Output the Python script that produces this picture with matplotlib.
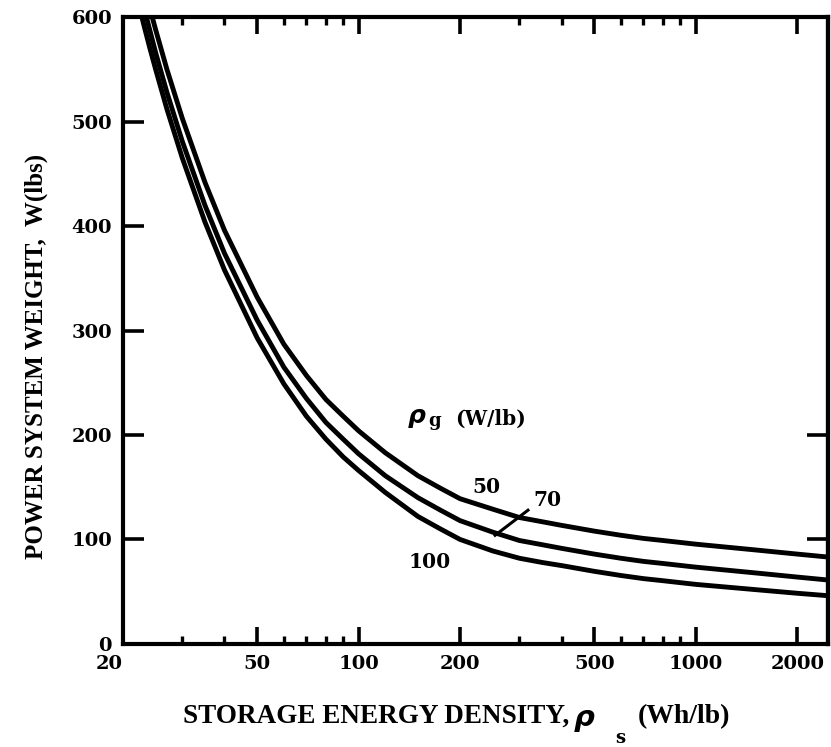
import matplotlib

matplotlib.use("Agg")
import matplotlib.pyplot as plt
from matplotlib.ticker import FixedLocator, NullFormatter

# storage energy density, Wh/lb
rho_s = [21, 22, 23, 24, 25, 27, 30, 35, 40, 50, 60, 70, 80, 90, 100, 120,
         150, 175, 200, 250, 300, 350, 400, 500, 600, 700, 800, 1000, 1500,
         2000, 2500]

# power system weight, lbs, for each generator density rho_g (W/lb)
w_50 = [686, 658, 632, 609, 588, 550, 503, 442, 396, 332, 287, 257, 234, 218,
        204, 183, 161, 149, 139, 129, 121, 117, 113.5, 108, 104, 101, 99,
        95.5, 90, 86, 83]
w_70 = [664, 636, 611, 588, 566, 528, 481, 420, 374, 310, 265, 235, 212, 196,
        182, 161, 140, 128, 118, 107, 99, 95, 91.5, 86, 82, 79, 77, 73.5, 68,
        64, 61]
w_100 = [648, 620, 594, 571, 550, 512, 465, 404, 358, 293, 249, 218, 196, 179,
         166, 145, 122, 110, 100, 89, 82, 78, 75, 69.5, 65.5, 62.5, 60.5, 57,
         52, 48.5, 46]

x_major = [20, 50, 100, 200, 500, 1000, 2000]
x_minor = [30, 40, 60, 70, 80, 90, 300, 400, 600, 700, 800, 900]
y_ticks = [0, 100, 200, 300, 400, 500, 600]
y_ticks_right = [100, 200]

TICK_FONT = dict(family="DejaVu Serif", weight="bold", size=14)
LABEL_FONT = dict(family="DejaVu Serif", weight="bold", size=14.5)

fig = plt.figure(figsize=(8.31, 7.47), dpi=100)
ax = fig.add_axes([0.148, 0.138, 0.8485, 0.839])

for w in (w_50, w_70, w_100):
    ax.plot(rho_s, w, color="black", lw=3.5, solid_capstyle="butt",
            solid_joinstyle="round")

ax.set_xscale("log")
ax.set_xlim(20, 2470)
ax.set_ylim(0, 600)

ax.xaxis.set_major_locator(FixedLocator(x_major))
ax.xaxis.set_minor_locator(FixedLocator(x_minor))
ax.xaxis.set_minor_formatter(NullFormatter())
ax.set_xticklabels([str(v) for v in x_major], **TICK_FONT)
ax.get_xticklabels()[0].set_horizontalalignment("right")
ax.set_yticks(y_ticks)
ax.set_yticklabels([str(v) for v in y_ticks], **TICK_FONT)

ax.tick_params(axis="x", which="major", direction="in", length=12, width=2.6,
               top=True, pad=8)
ax.tick_params(axis="x", which="minor", direction="in", length=6, width=2.4,
               top=True)
ax.tick_params(axis="y", direction="in", length=15, width=2.6, pad=8)

# right-hand ticks only at 100 and 200
sec = ax.secondary_yaxis("right")
sec.set_yticks(y_ticks_right)
sec.set_yticklabels([])
sec.tick_params(direction="in", length=15, width=2.6)
sec.spines["right"].set_linewidth(3.0)

for sp in ax.spines.values():
    sp.set_linewidth(3.0)

# curve labels
ax.text(139, 216, r"$\boldsymbol{\rho}$", fontsize=18, ha="left", va="center")
ax.text(161, 213, "g", **{**LABEL_FONT, "size": 13}, ha="left", va="center")
ax.text(193, 216, "(W/lb)", **LABEL_FONT, ha="left", va="center")
ax.text(240, 150, "50", **LABEL_FONT, ha="center", va="center")
ax.text(362, 138, "70", **LABEL_FONT, ha="center", va="center")
ax.text(162, 78, "100", **LABEL_FONT, ha="center", va="center")
ax.plot([254, 318], [104, 128], color="black", lw=2.2)

# axis titles
fig.text(0.22, 0.0415, "STORAGE ENERGY DENSITY,", family="Liberation Serif",
         weight="bold", fontsize=19.5, ha="left", va="center")
fig.text(0.689, 0.036, r"$\boldsymbol{\rho}$", fontsize=21, ha="left",
         va="center")
fig.text(0.746, 0.012, "s", family="DejaVu Serif", weight="bold", fontsize=13,
         ha="center", va="center")
fig.text(0.768, 0.041, "(Wh/lb)", family="Liberation Serif", weight="bold",
         fontsize=20, ha="left", va="center")
fig.text(0.044, 0.523, "POWER SYSTEM WEIGHT,  W(lbs)",
         family="Liberation Serif", weight="bold", fontsize=18, rotation=90,
         ha="center", va="center")

fig.savefig("out.png", dpi=100)
